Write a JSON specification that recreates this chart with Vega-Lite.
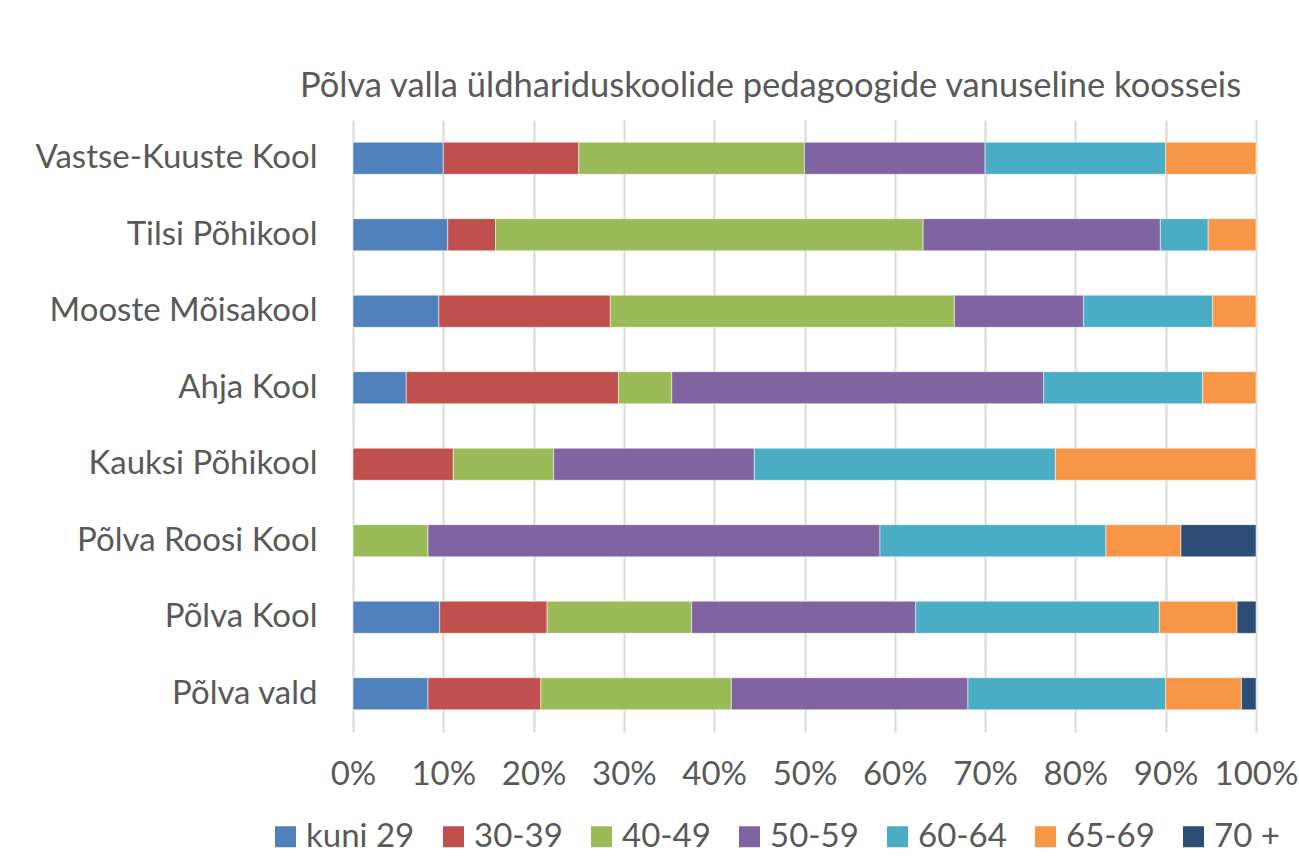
{
  "$schema": "https://vega.github.io/schema/vega-lite/v6.json",
  "autosize": {"type": "none"},
  "width": 903,
  "height": 612,
  "padding": {"left": 353, "top": 120, "right": 43, "bottom": 125},
  "background": "white",
  "config": {
    "font": "Lato",
    "view": {"stroke": null},
    "axis": {"labelColor": "#595959", "labelFont": "Lato", "labelFontSize": 33, "domain": false, "ticks": false, "tickSize": 0, "gridColor": "#d9d9d9", "gridWidth": 2}
  },
  "title": {
    "text": "Põlva valla üldhariduskoolide pedagoogide vanuseline koosseis",
    "font": "Lato",
    "fontSize": 34.5,
    "fontWeight": "normal",
    "color": "#595959",
    "anchor": "middle",
    "baseline": "alphabetic",
    "offset": -11,
    "dx": -34
  },
  "data": {
    "values": [
      {"kool": "Vastse-Kuuste Kool", "vanus": "kuni 29", "o": 1, "p": 10},
      {"kool": "Vastse-Kuuste Kool", "vanus": "30-39", "o": 2, "p": 15},
      {"kool": "Vastse-Kuuste Kool", "vanus": "40-49", "o": 3, "p": 25},
      {"kool": "Vastse-Kuuste Kool", "vanus": "50-59", "o": 4, "p": 20},
      {"kool": "Vastse-Kuuste Kool", "vanus": "60-64", "o": 5, "p": 20},
      {"kool": "Vastse-Kuuste Kool", "vanus": "65-69", "o": 6, "p": 10},
      {"kool": "Tilsi Põhikool", "vanus": "kuni 29", "o": 1, "p": 10.5},
      {"kool": "Tilsi Põhikool", "vanus": "30-39", "o": 2, "p": 5.3},
      {"kool": "Tilsi Põhikool", "vanus": "40-49", "o": 3, "p": 47.4},
      {"kool": "Tilsi Põhikool", "vanus": "50-59", "o": 4, "p": 26.3},
      {"kool": "Tilsi Põhikool", "vanus": "60-64", "o": 5, "p": 5.3},
      {"kool": "Tilsi Põhikool", "vanus": "65-69", "o": 6, "p": 5.3},
      {"kool": "Mooste Mõisakool\u2002", "vanus": "kuni 29", "o": 1, "p": 9.5},
      {"kool": "Mooste Mõisakool\u2002", "vanus": "30-39", "o": 2, "p": 19.0},
      {"kool": "Mooste Mõisakool\u2002", "vanus": "40-49", "o": 3, "p": 38.1},
      {"kool": "Mooste Mõisakool\u2002", "vanus": "50-59", "o": 4, "p": 14.3},
      {"kool": "Mooste Mõisakool\u2002", "vanus": "60-64", "o": 5, "p": 14.3},
      {"kool": "Mooste Mõisakool\u2002", "vanus": "65-69", "o": 6, "p": 4.8},
      {"kool": "Ahja Kool", "vanus": "kuni 29", "o": 1, "p": 5.9},
      {"kool": "Ahja Kool", "vanus": "30-39", "o": 2, "p": 23.5},
      {"kool": "Ahja Kool", "vanus": "40-49", "o": 3, "p": 5.9},
      {"kool": "Ahja Kool", "vanus": "50-59", "o": 4, "p": 41.2},
      {"kool": "Ahja Kool", "vanus": "60-64", "o": 5, "p": 17.6},
      {"kool": "Ahja Kool", "vanus": "65-69", "o": 6, "p": 5.9},
      {"kool": "Kauksi Põhikool", "vanus": "30-39", "o": 2, "p": 11.1},
      {"kool": "Kauksi Põhikool", "vanus": "40-49", "o": 3, "p": 11.1},
      {"kool": "Kauksi Põhikool", "vanus": "50-59", "o": 4, "p": 22.2},
      {"kool": "Kauksi Põhikool", "vanus": "60-64", "o": 5, "p": 33.3},
      {"kool": "Kauksi Põhikool", "vanus": "65-69", "o": 6, "p": 22.2},
      {"kool": "Põlva Roosi Kool", "vanus": "40-49", "o": 3, "p": 8.3},
      {"kool": "Põlva Roosi Kool", "vanus": "50-59", "o": 4, "p": 50},
      {"kool": "Põlva Roosi Kool", "vanus": "60-64", "o": 5, "p": 25},
      {"kool": "Põlva Roosi Kool", "vanus": "65-69", "o": 6, "p": 8.3},
      {"kool": "Põlva Roosi Kool", "vanus": "70 +", "o": 7, "p": 8.3},
      {"kool": "Põlva Kool", "vanus": "kuni 29", "o": 1, "p": 9.6},
      {"kool": "Põlva Kool", "vanus": "30-39", "o": 2, "p": 11.9},
      {"kool": "Põlva Kool", "vanus": "40-49", "o": 3, "p": 16.0},
      {"kool": "Põlva Kool", "vanus": "50-59", "o": 4, "p": 24.8},
      {"kool": "Põlva Kool", "vanus": "60-64", "o": 5, "p": 27.0},
      {"kool": "Põlva Kool", "vanus": "65-69", "o": 6, "p": 8.6},
      {"kool": "Põlva Kool", "vanus": "70 +", "o": 7, "p": 2.1},
      {"kool": "Põlva vald", "vanus": "kuni 29", "o": 1, "p": 8.3},
      {"kool": "Põlva vald", "vanus": "30-39", "o": 2, "p": 12.5},
      {"kool": "Põlva vald", "vanus": "40-49", "o": 3, "p": 21.1},
      {"kool": "Põlva vald", "vanus": "50-59", "o": 4, "p": 26.2},
      {"kool": "Põlva vald", "vanus": "60-64", "o": 5, "p": 21.9},
      {"kool": "Põlva vald", "vanus": "65-69", "o": 6, "p": 8.4},
      {"kool": "Põlva vald", "vanus": "70 +", "o": 7, "p": 1.6}
    ]
  },
  "mark": {"type": "bar", "stroke": "#ffffff", "strokeWidth": 0.75, "strokeOpacity": 0.7},
  "encoding": {
    "y": {
      "field": "kool",
      "type": "nominal",
      "sort": ["Vastse-Kuuste Kool", "Tilsi Põhikool", "Mooste Mõisakool\u2002", "Ahja Kool", "Kauksi Põhikool", "Põlva Roosi Kool", "Põlva Kool", "Põlva vald"],
      "scale": {"paddingInner": 0.58, "paddingOuter": 0.29},
      "axis": {"title": null, "grid": false, "labelPadding": 36, "labelLimit": 400}
    },
    "x": {
      "field": "p",
      "type": "quantitative",
      "stack": "normalize",
      "scale": {"domain": [0, 1], "nice": false},
      "axis": {"title": null, "format": ".0%", "values": [0, 0.1, 0.2, 0.3, 0.4, 0.5, 0.6, 0.7, 0.8, 0.9, 1], "grid": true, "labelBaseline": "alphabetic", "labelPadding": 52, "labelFlush": false}
    },
    "color": {
      "field": "vanus",
      "type": "nominal",
      "sort": ["kuni 29", "30-39", "40-49", "50-59", "60-64", "65-69", "70 +"],
      "scale": {"domain": ["kuni 29", "30-39", "40-49", "50-59", "60-64", "65-69", "70 +"], "range": ["#4F81BD", "#C0504D", "#9BBB59", "#8064A2", "#4BACC6", "#F79646", "#2C4D75"]},
      "legend": {
        "title": null,
        "orient": "none",
        "direction": "horizontal",
        "legendX": -84,
        "legendY": 700,
        "symbolType": "square",
        "symbolSize": 441,
        "symbolStrokeWidth": 0,
        "symbolOpacity": 1,
        "labelFont": "Lato",
        "labelFontSize": 33,
        "labelColor": "#595959",
        "labelOffset": 4,
        "columnPadding": 22,
        "labelLimit": 300
      }
    },
    "order": {"field": "o", "type": "quantitative"}
  }
}
